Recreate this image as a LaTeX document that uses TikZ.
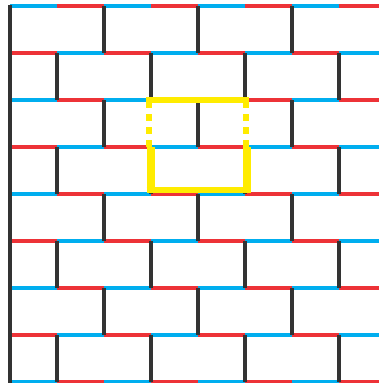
\documentclass[tikz,border=0pt]{standalone}
\definecolor{brickblue}{RGB}{0,174,239}
\definecolor{brickred}{RGB}{237,50,55}
\definecolor{mortar}{RGB}{51,51,51}
\definecolor{markyellow}{RGB}{255,236,0}
\tikzset{
  hline/.style={line width=3.4pt},
  vline/.style={line width=4pt, draw=mortar},
  yellowline/.style={line width=6pt, draw=markyellow},
  yellowdash/.style={line width=6pt, draw=markyellow, dash pattern=on 7pt off 6pt}
}
\begin{document}
\begin{tikzpicture}[x=1pt,y=-1pt]
\useasboundingbox (0,0) rectangle (379,383);
\clip (0,0) rectangle (379,383);
% horizontal lines
\foreach \k in {0,...,8}{
  \foreach \j in {0,...,7}{
    \pgfmathtruncatemacro{\parity}{mod(\k+\j,2)}
    \ifnum\parity=0
      \draw[hline, draw=brickblue] ({10+47*\j},{6+47*\k}) -- ({10+47*(\j+1)},{6+47*\k});
    \else
      \draw[hline, draw=brickred] ({10+47*\j},{6+47*\k}) -- ({10+47*(\j+1)},{6+47*\k});
    \fi
  }
}
% left edge
\draw[vline] (10,4.5) -- (10,383);
% head joints
\foreach \r in {0,2,4,6}{
  \foreach \x in {104,198,292}{
    \draw[vline] (\x,{6+47*\r}) -- (\x,{53+47*\r});
  }
}
\foreach \r in {1,3,5,7}{
  \foreach \x in {57,151,245,339}{
    \draw[vline] (\x,{6+47*\r}) -- (\x,{53+47*\r});
  }
}
% yellow marker
\draw[yellowline] (146,100) -- (249,100);
\draw[yellowdash] (149,101) -- (149,147);
\draw[yellowdash] (246,101) -- (246,147);
\draw[yellowline, line width=8pt] (150.5,147) -- (150.5,192.5);
\draw[yellowline, line width=8pt] (246.5,147) -- (246.5,192.5);
\draw[yellowline, line width=5.5pt] (146.5,190) -- (250.5,190);
\end{tikzpicture}
\end{document}
